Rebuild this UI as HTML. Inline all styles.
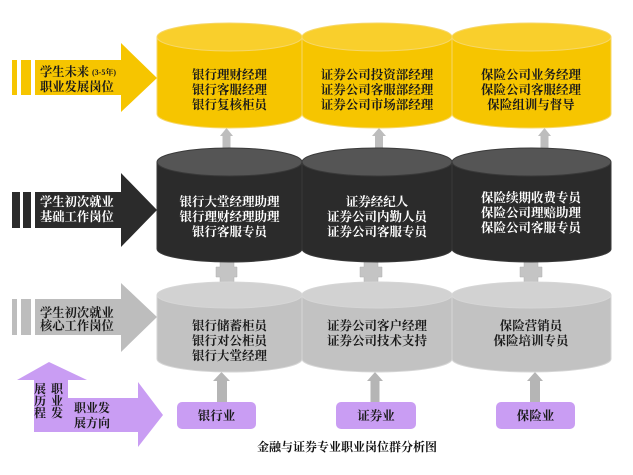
<!DOCTYPE html>
<html><head><meta charset="utf-8">
<style>
html,body{margin:0;padding:0;background:#fff;}
svg{display:block;}
text{font-family:"Liberation Serif","Noto Serif CJK SC","Noto Sans CJK SC",serif;font-weight:bold;}
</style></head>
<body>
<svg width="633" height="475" viewBox="0 0 633 475" xmlns="http://www.w3.org/2000/svg">
<rect width="633" height="475" fill="#fff"/>

<!-- connectors yellow->dark (up arrows) -->
<g fill="#bdbdbd">
  <path d="M220,136 L226.5,128 L233,136 L230.5,136 L230.5,150 L222.5,150 L222.5,136 Z"/>
  <path d="M372,136 L379,128 L386,136 L383,136 L383,150 L375,150 L375,136 Z"/>
  <path d="M538,136 L544.5,128 L551,136 L548.5,136 L548.5,150 L540.5,150 L540.5,136 Z"/>
</g>
<!-- plus connectors dark->gray -->
<g fill="#c4c4c4" stroke="#b0b0b0" stroke-width="0.5">
  <path d="M220,262 L234,262 L234,267 L237,267 L237,277 L234,277 L234,284 L220,284 L220,277 L216,277 L216,267 L220,267 Z"/>
  <path d="M364,262 L378,262 L378,267 L382,267 L382,277 L378,277 L378,284 L364,284 L364,277 L360,277 L360,267 L364,267 Z"/>
  <path d="M524,262 L538,262 L538,267 L542,267 L542,277 L538,277 L538,284 L524,284 L524,277 L520,277 L520,267 L524,267 Z"/>
</g>
<!-- bottom up arrows -->
<g fill="#b5b5b5">
  <path d="M213,381 L221.5,372 L230,381 L227,381 L227,403 L217,403 L217,381 Z"/>
  <path d="M367,381 L375,372 L383,381 L379.5,381 L379.5,403 L370.5,403 L370.5,381 Z"/>
  <path d="M527,381 L535,372 L543,381 L540,381 L540,403 L530,403 L530,381 Z"/>
</g>

<!-- Yellow cylinders -->
<g stroke="#f6d76a" stroke-width="1">
  <path d="M157,37 L157,114 A72.5,14 0 0 0 302,114 L302,37 Z" fill="#f6c500"/>
  <ellipse cx="229.5" cy="37" rx="72.5" ry="14" fill="#f9cf2c"/>
  <path d="M302,37 L302,114 A75,14 0 0 0 452,114 L452,37 Z" fill="#f6c500"/>
  <ellipse cx="377" cy="37" rx="75" ry="14" fill="#f9cf2c"/>
  <path d="M452,37 L452,114 A79.5,14 0 0 0 611,114 L611,37 Z" fill="#f6c500"/>
  <ellipse cx="531.5" cy="37" rx="79.5" ry="14" fill="#f9cf2c"/>
</g>

<!-- Dark cylinders -->
<g stroke="#3a3a3a" stroke-width="1">
  <path d="M157,162 L157,249 A72.5,13 0 0 0 302,249 L302,162 Z" fill="#2b2b2b"/>
  <ellipse cx="229.5" cy="162" rx="72.5" ry="14" fill="#555555"/>
  <path d="M302,162 L302,249 A75,13 0 0 0 452,249 L452,162 Z" fill="#2b2b2b"/>
  <ellipse cx="377" cy="162" rx="75" ry="14" fill="#555555"/>
  <path d="M452,162 L452,249 A79.5,13 0 0 0 611,249 L611,162 Z" fill="#2b2b2b"/>
  <ellipse cx="531.5" cy="162" rx="79.5" ry="14" fill="#555555"/>
</g>

<!-- Gray cylinders -->
<g stroke="#d6d6d6" stroke-width="1">
  <path d="M157,295 L157,359 A72.5,13 0 0 0 302,359 L302,295 Z" fill="#c2c2c2"/>
  <ellipse cx="229.5" cy="295" rx="72.5" ry="13" fill="#d2d2d2"/>
  <path d="M302,295 L302,359 A75,13 0 0 0 452,359 L452,295 Z" fill="#c2c2c2"/>
  <ellipse cx="377" cy="295" rx="75" ry="13" fill="#d2d2d2"/>
  <path d="M452,295 L452,359 A79.5,13 0 0 0 611,359 L611,295 Z" fill="#c2c2c2"/>
  <ellipse cx="531.5" cy="295" rx="79.5" ry="13" fill="#d2d2d2"/>
</g>

<!-- Cylinder text -->
<g font-size="12.5" text-anchor="middle" fill="#1a1a1a">
  <text x="229.5" y="79">银行理财经理</text>
  <text x="229.5" y="94">银行客服经理</text>
  <text x="229.5" y="109">银行复核柜员</text>
  <text x="377" y="79">证券公司投资部经理</text>
  <text x="377" y="94">证券公司客服部经理</text>
  <text x="377" y="109">证券公司市场部经理</text>
  <text x="531" y="79">保险公司业务经理</text>
  <text x="531" y="94">保险公司客服经理</text>
  <text x="531" y="109">保险组训与督导</text>
</g>
<g font-size="12.5" text-anchor="middle" fill="#ffffff">
  <text x="229.5" y="206">银行大堂经理助理</text>
  <text x="229.5" y="221">银行理财经理助理</text>
  <text x="229.5" y="236">银行客服专员</text>
  <text x="377" y="206">证券经纪人</text>
  <text x="377" y="221">证券公司内勤人员</text>
  <text x="377" y="236">证券公司客服专员</text>
  <text x="531" y="202">保险续期收费专员</text>
  <text x="531" y="217">保险公司理赔助理</text>
  <text x="531" y="232">保险公司客服专员</text>
</g>
<g font-size="12.5" text-anchor="middle" fill="#1a1a1a">
  <text x="229.5" y="330">银行储蓄柜员</text>
  <text x="229.5" y="345">银行对公柜员</text>
  <text x="229.5" y="360">银行大堂经理</text>
  <text x="377" y="330">证券公司客户经理</text>
  <text x="377" y="345">证券公司技术支持</text>
  <text x="531" y="330">保险营销员</text>
  <text x="531" y="345">保险培训专员</text>
</g>

<!-- Left arrows -->
<g fill="#f6c500">
  <rect x="12" y="60" width="5" height="35"/>
  <rect x="21" y="60" width="10" height="35"/>
  <path d="M35,60 L121,60 L121,43 L157,78 L121,112 L121,95 L35,95 Z"/>
</g>
<g fill="#2b2b2b">
  <rect x="12" y="192" width="8" height="36"/>
  <rect x="23" y="192" width="8" height="36"/>
  <path d="M35,192 L121,192 L121,173 L157,210 L121,247 L121,228 L35,228 Z"/>
</g>
<g fill="#bdbdbd">
  <rect x="12" y="299" width="5" height="36"/>
  <rect x="21" y="299" width="10" height="36"/>
  <path d="M35,299 L121,299 L121,283 L157,317 L121,352 L121,335 L35,335 Z"/>
</g>
<g font-size="12.3" fill="#1a1a1a">
  <text x="40" y="76">学生未来</text>
  <text x="92" y="75" font-size="8">(3-5年)</text>
  <text x="40" y="91">职业发展岗位</text>
</g>
<g font-size="12.3" fill="#ffffff">
  <text x="40" y="206">学生初次就业</text>
  <text x="40" y="221">基础工作岗位</text>
</g>
<g font-size="12.3" fill="#1a1a1a">
  <text x="40" y="317">学生初次就业</text>
  <text x="40" y="330">核心工作岗位</text>
</g>

<!-- Purple arrows -->
<g fill="#c99df3">
  <path d="M17,380 L49,362 L87,380 L68,380 L68,398 L138,398 L138,382 L163,415 L138,447 L138,432 L34,432 L34,380 Z"/>
</g>
<g font-size="12" fill="#1a1a1a" text-anchor="middle">
  <text x="40" y="393">展</text>
  <text x="40" y="405">历</text>
  <text x="40" y="417">程</text>
  <text x="57" y="393">职</text>
  <text x="57" y="405">业</text>
  <text x="57" y="417">发</text>
  <text x="92" y="412">职业发</text>
  <text x="92" y="427">展方向</text>
</g>

<!-- Purple boxes -->
<g fill="#c99df3">
  <rect x="177" y="402" width="79" height="27" rx="5"/>
  <rect x="336" y="402" width="80" height="27" rx="5"/>
  <rect x="496" y="402" width="79" height="27" rx="5"/>
</g>
<g font-size="12.5" fill="#1a1a1a" text-anchor="middle">
  <text x="216.5" y="420">银行业</text>
  <text x="376" y="420">证券业</text>
  <text x="535.5" y="420">保险业</text>
</g>

<!-- Caption -->
<text x="347" y="451" font-size="12" text-anchor="middle" fill="#111">金融与证券专业职业岗位群分析图</text>
</svg>
</body></html>
